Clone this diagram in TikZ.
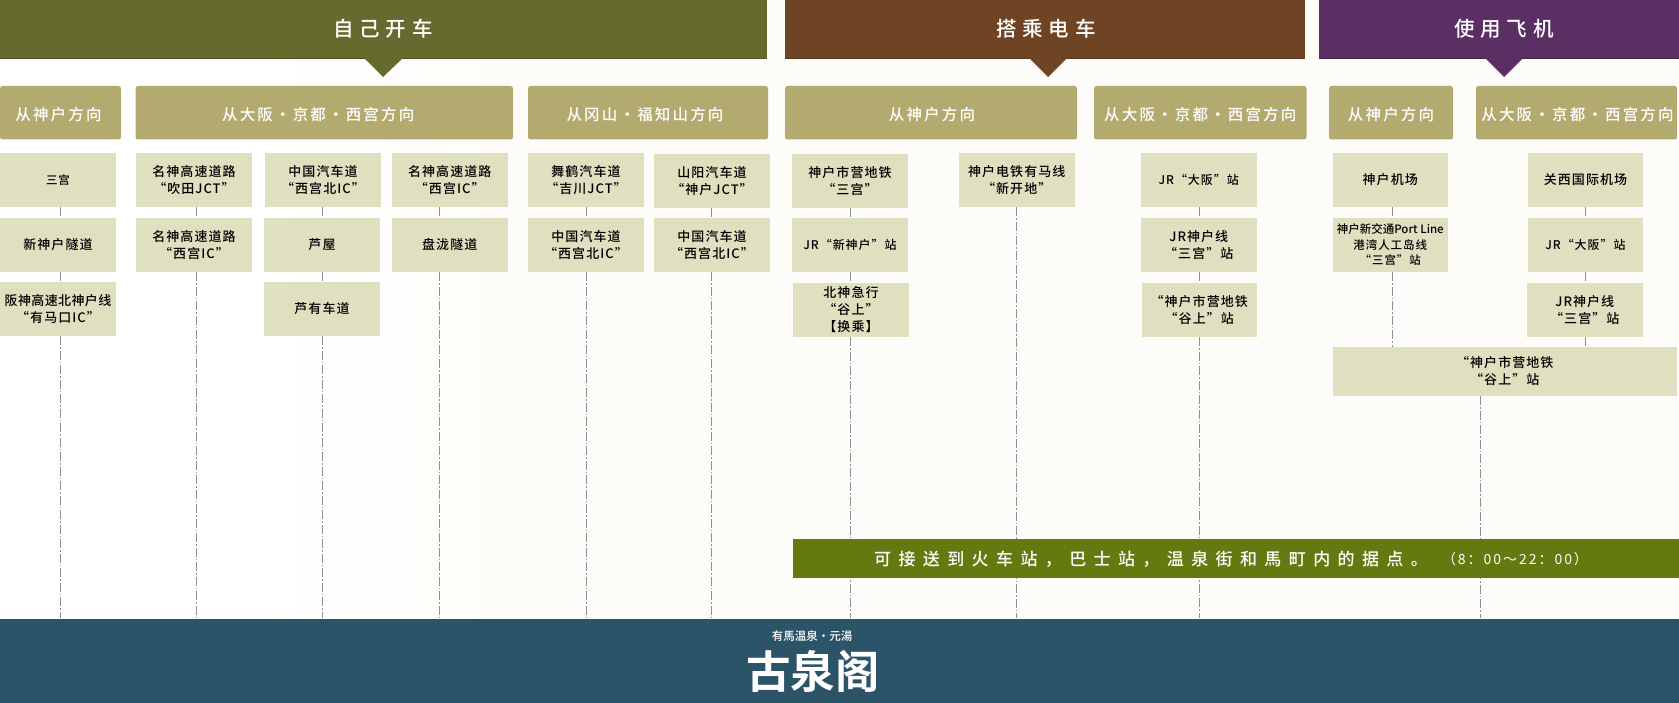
\documentclass[tikz,border=0pt]{standalone}
\usepackage{fontspec}
\setmainfont{Noto Sans CJK SC Medium}
\newfontfamily\bannerfont[LetterSpace=28]{Noto Sans CJK SC Medium}
\newfontfamily\subfont[LetterSpace=14]{Noto Sans CJK SC Medium}
\newfontfamily\boxfont[LetterSpace=8]{Noto Sans CJK SC Medium}
\newfontfamily\barfont[LetterSpace=43.5]{Noto Sans CJK SC Medium}
\newfontfamily\timefont[LetterSpace=14]{Noto Sans CJK SC}
\newfontfamily\logofont{Noto Sans CJK SC Bold}
\definecolor{pagebg}{HTML}{FDFCF8}
\definecolor{olive}{HTML}{666A2F}
\definecolor{oliveedge}{HTML}{4F5222}
\definecolor{brownb}{HTML}{6F4425}
\definecolor{brownedge}{HTML}{59351C}
\definecolor{purpleb}{HTML}{5B2F63}
\definecolor{purpleedge}{HTML}{48244F}
\definecolor{subc}{HTML}{B3AA70}
\definecolor{boxc}{HTML}{DFE0C0}
\definecolor{barc}{HTML}{647A10}
\definecolor{footc}{HTML}{2C5468}
\definecolor{linec}{HTML}{8E8E9C}
\tikzset{
  bannerbox/.style={inner sep=0pt,text=white,font=\bannerfont\fontsize{20.5}{24}\selectfont},
  subbox/.style={rounded corners=2.5pt,fill=subc,inner sep=0pt,text=white,font=\subfont\fontsize{15.5}{19}\selectfont},
  stopbox/.style={fill=boxc,inner sep=0pt,text=black,align=center,font=\boxfont\fontsize{13}{17}\selectfont},
  smallstop/.style={stopbox,font=\boxfont\fontsize{12}{17}\selectfont},
  linkline/.style={draw=linec,line width=0.9pt,dash pattern=on 9pt off 2pt on 1.5pt off 2pt},
}
% name x1 y1 x2 y2 text
\newcommand\bx[7][stopbox]{\node[#1,minimum width={(#5-#3)*1pt},minimum height={(#6-#4)*1pt}] (#2) at ({(#3+#5)/2},{(#4+#6)/2}) {#7};}
% header text moved sideways (half the given kern, as it is centred) and dropped 2pt
\newcommand\sx[2]{\raisebox{-2pt}[\height][\depth]{\hspace*{#1}#2}}
\begin{document}
\begin{tikzpicture}[x=1pt,y=-1pt]
\useasboundingbox (0,0) rectangle (1679,703);
\fill[white] (0,0) rectangle (1679,703);
\shade[left color=white,right color=pagebg] (250,0) rectangle (520,703);
\fill[pagebg] (520,0) rectangle (1679,703);

% banners
\bx[bannerbox,fill=olive]{b1}{0}{0}{767}{58}{}
\bx[bannerbox,fill=brownb]{b2}{785}{0}{1305}{58}{}
\bx[bannerbox,fill=purpleb]{b3}{1319}{0}{1679}{58}{}
\draw[oliveedge,line width=1pt] (b1.south west) -- (b1.south east);
\draw[brownedge,line width=1pt] (b2.south west) -- (b2.south east);
\draw[purpleedge,line width=1pt] (b3.south west) -- (b3.south east);
\fill[olive] (364,58) -- (403,58) -- (383,77) -- cycle;
\fill[brownb] (1029,58) -- (1067,58) -- (1048,77) -- cycle;
\fill[purpleb] (1485,58) -- (1523,58) -- (1504,77) -- cycle;
\node[bannerbox] (t1) at (383,29) {自己开车};
\node[bannerbox] (t2) at (1046,29) {搭乘电车};
\node[bannerbox] (t3) at (1504,29) {使用飞机};

% direction headers
\bx[subbox]{s1}{0}{86}{121}{139.5}{\sx{-4pt}{从神户方向}}
\bx[subbox]{s2}{135.5}{86}{513}{139.5}{\sx{-12pt}{从大阪・京都・西宫方向}}
\bx[subbox]{s3}{528}{86}{768}{139.5}{\sx{-6pt}{从冈山・福知山方向}}
\bx[subbox]{s4}{785}{86}{1077}{139.5}{\sx{2pt}{从神户方向}}
\bx[subbox]{s5}{1094}{86}{1306.5}{139.5}{\sx{0pt}{从大阪・京都・西宫方向}}
\bx[subbox]{s6}{1329}{86}{1453}{139.5}{\sx{0pt}{从神户方向}}
\bx[subbox]{s7}{1476}{86}{1677}{139.5}{\sx{2pt}{从大阪・京都・西宫方向}}

% line ends
\coordinate (e1) at (60.7,618);
\coordinate (e2) at (196,618);
\coordinate (e3) at (322,618);
\coordinate (e4) at (439.6,618);
\coordinate (e5) at (586,618);
\coordinate (e6) at (711,618);
\coordinate (e7) at (850,618);
\coordinate (e8) at (1016.7,618);
\coordinate (e9) at (1199,618);
\coordinate (e10) at (1392,347);
\coordinate (e11) at (1585,347);
\coordinate (e12) at (1480,618);

% stops
\bx{a1}{0}{153}{116}{207}{\fontsize{11.5}{17}\selectfont 三宫}
\bx{a2}{0}{218}{116}{272}{新神户隧道}
\bx{a3}{0}{282}{116}{336}{\addfontfeature{LetterSpace=3}阪神高速北神户线\\“有马口IC”}
\bx{c1}{136}{153}{252}{207}{名神高速道路\\“吹田JCT”}
\bx{c2}{136}{218}{252}{272}{名神高速道路\\“西宫IC”}
\bx{d1}{265}{153}{381}{207}{中国汽车道\\“西宫北IC”}
\bx{d2}{264}{218}{380}{272}{芦屋}
\bx{d3}{264}{282}{380}{336}{芦有车道}
\bx{f1}{392}{153}{507.5}{207}{名神高速道路\\“西宫IC”}
\bx{f2}{392}{218}{507.5}{272}{盘泷隧道}
\bx{g1}{528}{153}{644}{207}{舞鹤汽车道\\“吉川JCT”}
\bx{g2}{528}{218}{644}{272}{中国汽车道\\“西宫北IC”}
\bx{h1}{654}{154}{770}{208}{山阳汽车道\\“神户JCT”}
\bx{h2}{654}{218}{770}{272}{中国汽车道\\“西宫北IC”}
\bx{i1}{792}{154}{908}{208}{神户市营地铁\\“三宫”}
\bx[smallstop]{i2}{792}{218}{908}{272}{JR“新神户”站}
\bx{i3}{793}{283}{909}{337}{北神急行\\“谷上”\\【换乘】}
\bx{j1}{959}{153}{1074.5}{207}{神户电铁有马线\\“新开地”}
\bx[smallstop]{k1}{1141}{153}{1256.5}{207}{JR“大阪”站}
\bx{k2}{1141}{218}{1256.5}{272}{JR神户线\\“三宫”站}
\bx{k3}{1141.5}{283}{1257}{337}{“神户市营地铁\\“谷上”站}
\bx{m1}{1332.5}{153}{1448}{207}{神户机场}
\bx[stopbox,font=\boxfont\fontsize{11.5}{15.5}\selectfont]{m2}{1332.5}{218}{1448}{272}{\addfontfeature{LetterSpace=0}神户新交通Port Line\\港湾人工岛线\\“三宫”站}
\bx{n1}{1528}{153}{1643}{207}{关西国际机场}
\bx[smallstop]{n2}{1528}{218}{1643}{272}{JR“大阪”站}
\bx{n3}{1527}{283}{1642.5}{337}{JR神户线\\“三宫”站}
\bx{w1}{1332.5}{347}{1677}{396}{“神户市营地铁\\“谷上”站}

% connectors
\draw[linkline] (a1.south -| e1) -- (a2.north -| e1) (a2.south -| e1) -- (a3.north -| e1) (a3.south -| e1) -- (e1);
\draw[linkline] (c1.south -| e2) -- (c2.north -| e2) (c2.south -| e2) -- (e2);
\draw[linkline] (d1.south -| e3) -- (d2.north -| e3) (d2.south -| e3) -- (d3.north -| e3) (d3.south -| e3) -- (e3);
\draw[linkline] (f1.south -| e4) -- (f2.north -| e4) (f2.south -| e4) -- (e4);
\draw[linkline] (g1.south -| e5) -- (g2.north -| e5) (g2.south -| e5) -- (e5);
\draw[linkline] (h1.south -| e6) -- (h2.north -| e6) (h2.south -| e6) -- (e6);
\draw[linkline] (i1.south -| e7) -- (i2.north -| e7) (i2.south -| e7) -- (i3.north -| e7) (i3.south -| e7) -- (e7);
\draw[linkline] (j1.south -| e8) -- (e8);
\draw[linkline] (k1.south -| e9) -- (k2.north -| e9) (k2.south -| e9) -- (k3.north -| e9) (k3.south -| e9) -- (e9);
\draw[linkline] (m1.south -| e10) -- (m2.north -| e10) (m2.south -| e10) -- (e10);
\draw[linkline] (n1.south -| e11) -- (n2.north -| e11) (n2.south -| e11) -- (n3.north -| e11) (n3.south -| e11) -- (e11);
\draw[linkline] (w1.south -| e12) -- (e12);

% shuttle bar
\bx[fill=barc,inner sep=0pt]{bar}{793}{539}{1679}{578}{}
\node[text=white,inner sep=0pt,font=\barfont\fontsize{17}{20}\selectfont] (bt) at (1151,559) {可接送到火车站，巴士站，温泉街和馬町内的据点。};
\node[text=white,inner sep=0pt,font=\timefont\fontsize{14}{16}\selectfont] (bh) at (1515,559) {（8：00～22：00）};

% footer
\bx[fill=footc,inner sep=0pt]{foot}{0}{619}{1679}{703}{}
\node[text=white,inner sep=0pt,font=\fontsize{11.5}{12}\selectfont] (l1) at (812,636) {有馬温泉・元湯};
\node[text=white,inner sep=0pt,font=\logofont\fontsize{44.5}{48}\selectfont] (l2) at (813,671) {古泉阁};
\end{tikzpicture}
\end{document}
